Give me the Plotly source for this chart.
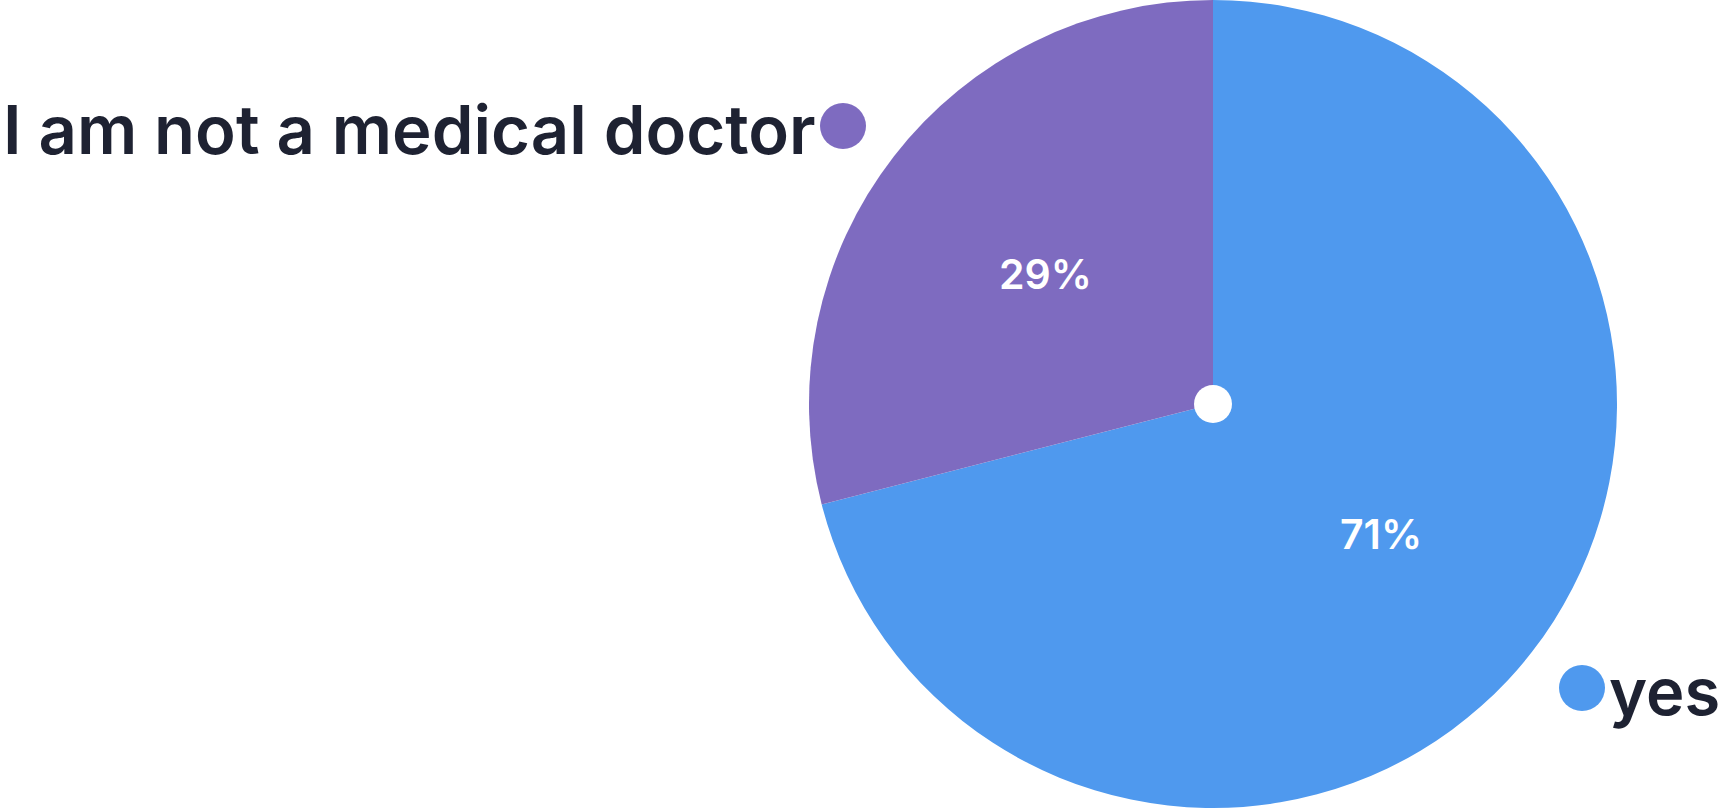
import math
import plotly.graph_objects as go

labels = ["yes", "I am not a medical doctor"]
values = [71, 29]
colors = ["#4F99EE", "#7E6BC0"]
pct_text = ["71%", "29%"]

W, H = 1725, 808
cx_px, cy_px, R = 1213, 404, 404

fig = go.Figure(go.Pie(
    labels=labels, values=values, sort=False, direction="clockwise", rotation=0,
    marker=dict(colors=colors, line=dict(width=0)),
    textinfo="none", hoverinfo="label+percent", showlegend=False,
    domain=dict(x=[(cx_px - R) / W, (cx_px + R) / W], y=[0, 1]),
))

def px2paper(x, y):
    return x / W, 1 - y / H

annotations = []
shapes = []
total = sum(values)
start = 90.0
for v, t in zip(values, pct_text):
    span = 360.0 * v / total
    mid = math.radians(start - span / 2)
    start -= span
    r = 0.525 * R
    x = cx_px + r * math.cos(mid)
    y = cy_px - r * math.sin(mid)
    px, py = px2paper(x, y)
    annotations.append(dict(x=px, y=py, xref="paper", yref="paper", text=t, showarrow=False,
                            font=dict(family="Inter", size=41, color="white", weight=600),
                            xanchor="center", yanchor="middle"))

# outside labels with dots
label_specs = [
    ("yes", 1582, 688, 65, "left", 1607),
    ("I am not a medical doctor", 843, 126, 67, "right", 818),
]
col_map = dict(zip(labels, colors))
for name, dx, dy, fs, anchor, tx in label_specs:
    rr = 23
    x0, y0 = px2paper(dx - rr, dy + rr)
    x1, y1 = px2paper(dx + rr, dy - rr)
    shapes.append(dict(type="circle", xref="paper", yref="paper", x0=x0, y0=y0, x1=x1, y1=y1,
                       fillcolor=col_map[name], line=dict(width=0)))
    ax, ay = px2paper(tx, dy + 3)
    annotations.append(dict(x=ax, y=ay, xref="paper", yref="paper", text=name, showarrow=False,
                            font=dict(family="Inter", size=fs, color="#1E2232", weight=600),
                            xanchor=anchor, yanchor="middle"))

# center white dot
rr = 19
x0, y0 = px2paper(cx_px - rr, cy_px + rr)
x1, y1 = px2paper(cx_px + rr, cy_px - rr)
shapes.append(dict(type="circle", xref="paper", yref="paper", x0=x0, y0=y0, x1=x1, y1=y1,
                   fillcolor="white", line=dict(width=0)))

fig.update_layout(width=W, height=H, margin=dict(l=0, r=0, t=0, b=0),
                  paper_bgcolor="white", plot_bgcolor="white",
                  annotations=annotations, shapes=shapes)
fig.write_html("out.html", config={"displayModeBar": False},
               post_script="document.body.style.margin='0px';document.body.style.overflow='hidden';")
